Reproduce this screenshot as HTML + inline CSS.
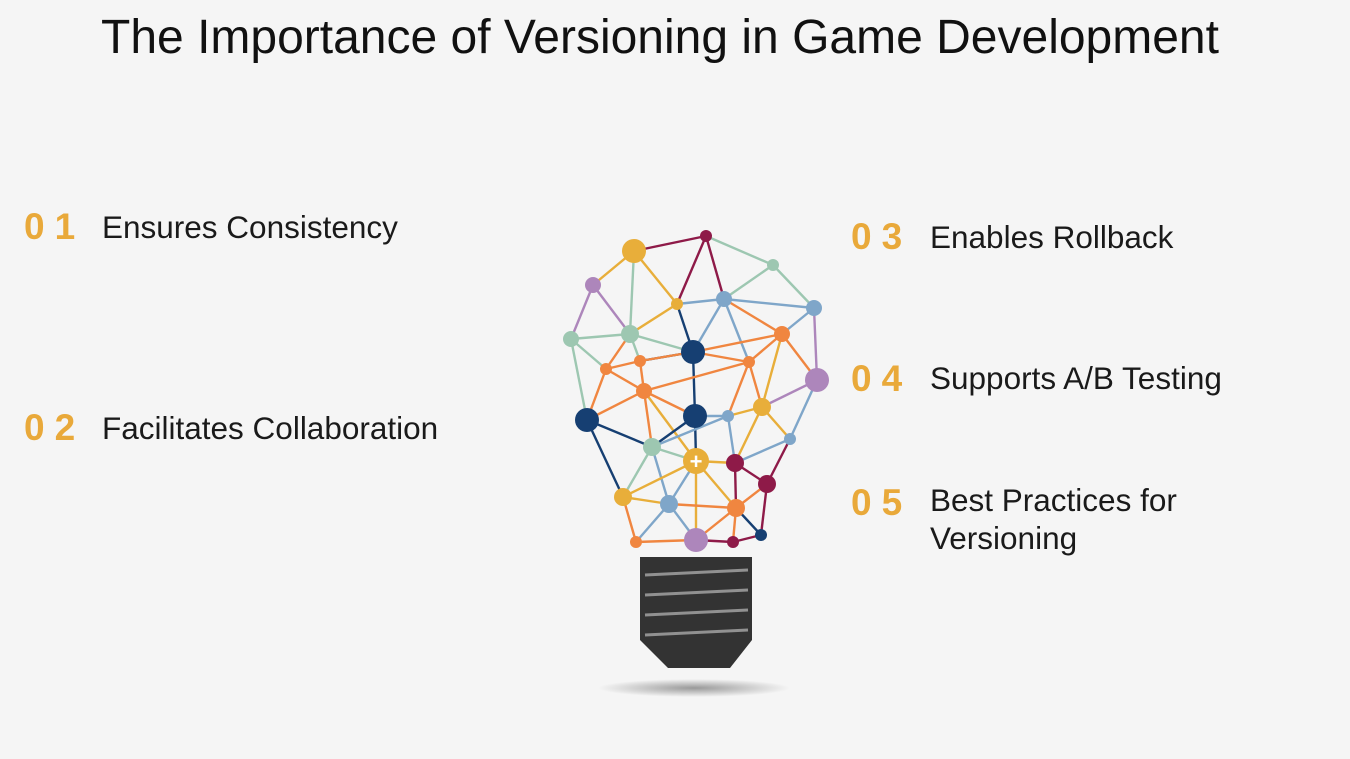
<!DOCTYPE html>
<html><head><meta charset="utf-8"><style>
body{margin:0;width:1350px;height:759px;background:#f5f5f5;overflow:hidden;position:relative;font-family:"Liberation Sans",sans-serif}
.t{position:absolute;left:0;width:1320px;text-align:center;top:10px;font-size:48px;color:#111}
.it{position:absolute;font-size:31.5px;color:#1a1a1a;line-height:38px}
.n{position:absolute;font-size:37px;font-weight:bold;color:#e9a93a;letter-spacing:10px}
</style></head><body>
<div class="t">The Importance of Versioning in Game Development</div>
<div class="n" style="left:24px;top:206px">01</div><div class="it" style="left:102px;top:208px">Ensures Consistency</div>
<div class="n" style="left:24px;top:407px">02</div><div class="it" style="left:102px;top:409px">Facilitates Collaboration</div>
<div class="n" style="left:851px;top:216px">03</div><div class="it" style="left:930px;top:218px">Enables Rollback</div>
<div class="n" style="left:851px;top:358px">04</div><div class="it" style="left:930px;top:359px">Supports A/B Testing</div>
<div class="n" style="left:851px;top:482px">05</div><div class="it" style="left:930px;top:481px">Best Practices for<br>Versioning</div>
<svg width="1350" height="759" style="position:absolute;left:0;top:0">
<defs><radialGradient id="sh"><stop offset="0" stop-color="#999"/><stop offset="1" stop-color="#f5f5f5"/></radialGradient></defs>
<ellipse cx="694" cy="688" rx="96" ry="9" fill="url(#sh)"/>
<path d="M640 557 L752 557 L752 640 L730 668 L668 668 L640 640 Z" fill="#333"/>
<g stroke="#eee" stroke-width="3" opacity=".5"><line x1="645" y1="575" x2="748" y2="570"/><line x1="645" y1="595" x2="748" y2="590"/><line x1="645" y1="615" x2="748" y2="610"/><line x1="645" y1="635" x2="748" y2="630"/></g>
<g stroke-width="2.4" fill="none" id="e"></g>
<g id="nd"></g>
<text x="696" y="469" font-size="22" font-weight="bold" fill="#fff" text-anchor="middle">+</text>
</svg>
<script>
var N={A:[634,251,12,'#e8ae3a'],B:[706,236,6,'#8e1a48'],C:[593,285,8,'#ad86bb'],D:[773,265,6,'#9dc7b1'],E:[677,304,6,'#e8ae3a'],F:[724,299,8,'#7fa6c9'],G:[814,308,8,'#7fa6c9'],H:[571,339,8,'#9dc7b1'],I:[630,334,9,'#9dc7b1'],J:[782,334,8,'#f08640'],K:[693,352,12,'#163f72'],L:[606,369,6,'#f08640'],M:[640,361,6,'#f08640'],N:[749,362,6,'#f08640'],O:[644,391,8,'#f08640'],P:[817,380,12,'#ad86bb'],Q:[587,420,12,'#163f72'],R:[695,416,12,'#163f72'],S:[728,416,6,'#7fa6c9'],T:[762,407,9,'#e8ae3a'],U:[790,439,6,'#7fa6c9'],V:[652,447,9,'#9dc7b1'],W:[696,461,13,'#e8ae3a'],X:[735,463,9,'#8e1a48'],Y:[767,484,9,'#8e1a48'],Z:[623,497,9,'#e8ae3a'],a:[669,504,9,'#7fa6c9'],b:[736,508,9,'#f08640'],c:[636,542,6,'#f08640'],d:[696,540,12,'#ad86bb'],e:[733,542,6,'#8e1a48'],f:[761,535,6,'#163f72']};
var E="AB AC AE AI BE BF BD DF DG FG FE FK FJ FN GJ GP CI CH HI HL HQ IE IK IM IL JN JK JT JP KM KN KR KE LO LM LQ MO MK NT NO OV OR OW OQ PT PU QV QZ RS RW RV SN SX SV ST TU TX UY UX VW Va VZ WX Wa Wb Wd WZ XY Xb Yb Yf Za Zc ad ac ab bd be bf ef cd de".split(" ");
var s='';
E.forEach(function(p,i){var a=N[p[0]],b=N[p[1]];s+='<line x1="'+a[0]+'" y1="'+a[1]+'" x2="'+b[0]+'" y2="'+b[1]+'" stroke="'+(i%3?a[3]:b[3])+'"/>';});
document.getElementById('e').innerHTML=s;s='';
for(var k in N){var n=N[k];s+='<circle cx="'+n[0]+'" cy="'+n[1]+'" r="'+n[2]+'" fill="'+n[3]+'"/>';}
document.getElementById('nd').innerHTML=s;
</script>
</body></html>
